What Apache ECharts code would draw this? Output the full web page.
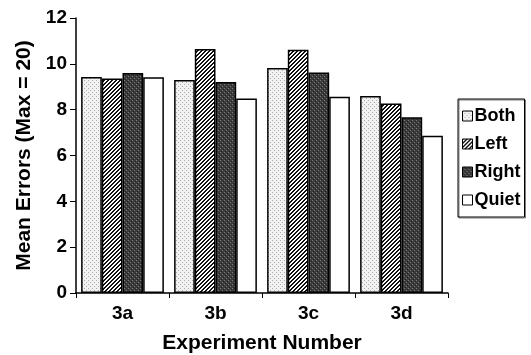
<!DOCTYPE html>
<html>
<head>
<meta charset="utf-8">
<script src="https://cdn.jsdelivr.net/npm/echarts@6/dist/echarts.min.js"></script>
<style>
  html, body { margin: 0; padding: 0; background: #fff; }
  #chart { width: 531px; height: 355px; }
</style>
</head>
<body>
<div id="chart"></div>
<script>
const categories = ['3a', '3b', '3c', '3d']
const seriesNames = ['Both', 'Left', 'Right', 'Quiet']
const bothValues = [9.43, 9.30, 9.82, 8.60]
const leftValues = [9.36, 10.65, 10.62, 8.27]
const rightValues = [9.60, 9.21, 9.62, 7.67]
const quietValues = [9.41, 8.49, 8.56, 6.86]
const yTicks = [0, 2, 4, 6, 8, 10, 12]

// small canvas tiles used as fill patterns
function makeTile (size, draw) {
  const c = document.createElement('canvas')
  c.width = size
  c.height = size
  const ctx = c.getContext('2d')
  draw(ctx)
  return { image: c, repeat: 'repeat' }
}

const dotted = makeTile(4, ctx => {
  ctx.fillStyle = '#f2f2f2'
  ctx.fillRect(0, 0, 4, 4)
  ctx.fillStyle = '#aaaaaa'
  ctx.fillRect(0, 0, 1, 1)
  ctx.fillRect(2, 2, 1, 1)
})

const hatched = makeTile(4, ctx => {
  ctx.fillStyle = '#ffffff'
  ctx.fillRect(0, 0, 4, 4)
  ctx.fillStyle = '#111111'
  // "/" diagonal, 2px dark per 4px
  for (let y = 0; y < 4; y++) {
    const x = (3 - y + 4) % 4
    ctx.fillRect(x, y, 1, 1)
    ctx.fillRect((x + 1) % 4, y, 1, 1)
  }
})

const checkered = makeTile(4, ctx => {
  ctx.fillStyle = '#3c3c3c'
  ctx.fillRect(0, 0, 4, 4)
  ctx.fillStyle = '#7a7a7a'
  ctx.fillRect(0, 0, 1, 1)
  ctx.fillRect(2, 2, 1, 1)
  ctx.fillStyle = '#222222'
  ctx.fillRect(1, 3, 1, 1)
  ctx.fillRect(3, 1, 1, 1)
})

const fills = [dotted, hatched, checkered, '#ffffff']
const values = [bothValues, leftValues, rightValues, quietValues]

const chart = echarts.init(document.getElementById('chart'))
const font = 'Liberation Sans, Arial, sans-serif'

const option = {
  animation: false,
  textStyle: { fontFamily: font },
  grid: { left: 76, top: 18, right: 83, bottom: 62, outerBoundsMode: 'none' },
  legend: {
    orient: 'vertical',
    left: 458,
    top: 99,
    padding: [8, 4, 8, 4],
    itemGap: 10,
    itemWidth: 10,
    itemHeight: 10,
    itemStyle: { borderColor: '#000', borderWidth: 1 },
    borderColor: '#000',
    borderWidth: 1,
    shadowColor: 'rgba(0,0,0,0.5)',
    shadowOffsetX: 1,
    shadowOffsetY: 1,
    icon: 'rect',
    textStyle: { fontSize: 18, fontWeight: 'bold', color: '#000', fontFamily: font, padding: [0, 0, 0, -3] },
    data: seriesNames
  },
  xAxis: {
    type: 'category',
    data: categories,
    name: 'Experiment Number',
    nameLocation: 'middle',
    nameGap: 40,
    nameTextStyle: { fontSize: 21, fontWeight: 'bold', color: '#000', fontFamily: font },
    axisLine: { lineStyle: { color: '#000', width: 1.5 } },
    axisTick: { show: true, length: 5, lineStyle: { color: '#000', width: 1 } },
    axisLabel: { fontSize: 19, fontWeight: 'bold', color: '#000', margin: 11, fontFamily: font }
  },
  yAxis: {
    type: 'value',
    min: 0,
    max: 12,
    interval: 2,
    name: 'Mean Errors (Max = 20)',
    nameLocation: 'middle',
    nameGap: 41,
    nameTextStyle: { fontSize: 21, fontWeight: 'bold', color: '#000', fontFamily: font },
    axisLine: { show: true, lineStyle: { color: '#000', width: 1.5 } },
    axisTick: { show: true, length: 6, lineStyle: { color: '#000', width: 1 } },
    splitLine: { show: false },
    axisLabel: {
      fontSize: 19,
      fontWeight: 'bold',
      color: '#000',
      margin: 9,
      fontFamily: font,
      formatter: v => (yTicks.includes(v) ? String(v) : '')
    }
  },
  series: seriesNames.map((name, i) => ({
    name: name,
    type: 'bar',
    data: values[i],
    barGap: '0%',
    barCategoryGap: '11%',
    itemStyle: { color: fills[i], borderColor: '#000', borderWidth: 1.5 }
  }))
}

chart.setOption(option)
</script>
</body>
</html>
